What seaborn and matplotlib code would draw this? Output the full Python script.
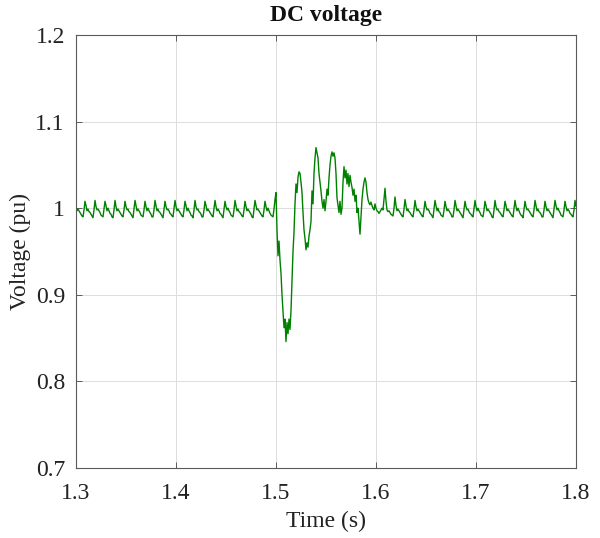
import numpy as np
import pandas as pd
import matplotlib
matplotlib.use("Agg")
import matplotlib.pyplot as plt
import seaborn as sns

# DC-link voltage (pu), sampled every 1 ms from 1.300 s to 1.800 s
t_start = 1.300
dt = 0.001

# steady ripple before the disturbance: 1.300 .. 1.499 s
v_pre = [
    1.002, 0.997, 0.999, 0.997, 0.995, 0.993, 0.991, 0.990, 0.998, 1.008,
    1.003, 0.997, 0.999, 0.996, 0.995, 0.993, 0.991, 0.989, 0.998, 1.009,
    1.002, 0.998, 0.999, 0.997, 0.995, 0.992, 0.991, 0.990, 0.999, 1.008,
    1.003, 0.997, 1.000, 0.997, 0.994, 0.993, 0.990, 0.989, 0.998, 1.009,
    1.002, 0.997, 0.999, 0.997, 0.995, 0.993, 0.991, 0.990, 0.998, 1.008,
    1.002, 0.998, 0.999, 0.996, 0.995, 0.993, 0.991, 0.989, 0.999, 1.009,
    1.003, 0.997, 0.999, 0.997, 0.995, 0.992, 0.991, 0.990, 0.998, 1.008,
    1.002, 0.997, 1.000, 0.997, 0.995, 0.993, 0.990, 0.990, 0.998, 1.009,
    1.003, 0.997, 0.999, 0.996, 0.995, 0.993, 0.991, 0.989, 0.998, 1.008,
    1.002, 0.998, 0.999, 0.997, 0.994, 0.993, 0.991, 0.990, 0.999, 1.009,
    1.002, 0.997, 0.999, 0.997, 0.995, 0.993, 0.991, 0.990, 0.998, 1.008,
    1.003, 0.997, 1.000, 0.997, 0.995, 0.992, 0.991, 0.989, 0.998, 1.009,
    1.002, 0.998, 0.999, 0.996, 0.995, 0.993, 0.990, 0.990, 0.998, 1.008,
    1.003, 0.997, 0.999, 0.997, 0.995, 0.993, 0.991, 0.990, 0.999, 1.009,
    1.002, 0.997, 0.999, 0.997, 0.994, 0.993, 0.991, 0.989, 0.998, 1.008,
    1.002, 0.998, 1.000, 0.997, 0.995, 0.992, 0.991, 0.990, 0.998, 1.009,
    1.003, 0.997, 0.999, 0.996, 0.995, 0.993, 0.991, 0.990, 0.998, 1.008,
    1.002, 0.997, 0.999, 0.997, 0.995, 0.993, 0.990, 0.989, 0.999, 1.009,
    1.003, 0.998, 0.999, 0.997, 0.995, 0.993, 0.991, 0.990, 0.998, 1.008,
    1.002, 0.997, 1.000, 0.997, 0.994, 0.992, 0.991, 0.990, 0.999, 1.010,
]

# disturbance and recovery: 1.500 .. 1.600 s
v_fault = [
    1.018, 0.975, 0.945, 0.962, 0.940, 0.925, 0.900, 0.882, 0.862, 0.872,
    0.846, 0.868, 0.855, 0.872, 0.860, 0.882, 0.915, 0.950, 0.972, 1.005,
    1.028, 1.018, 1.036, 1.042, 1.040, 1.030, 1.018, 0.995, 0.975, 0.965,
    0.952, 0.960, 0.955, 0.968, 0.975, 0.985, 1.020, 1.005, 1.040, 1.058,
    1.070, 1.064, 1.058, 1.040, 1.030, 1.020, 1.008, 1.000, 1.010, 0.997,
    1.008, 1.022, 1.015, 1.035, 1.050, 1.060, 1.065, 1.060, 1.064, 1.058,
    1.040, 1.012, 1.003, 0.995, 1.008, 0.993, 1.000, 1.030, 1.048, 1.035,
    1.044, 1.028, 1.040, 1.025, 1.038, 1.030, 1.024, 1.015, 1.022, 1.008,
    1.015, 0.995, 1.000, 0.985, 0.970, 0.990, 1.010, 1.022, 1.030, 1.035,
    1.030, 1.018, 1.010, 1.006, 1.004, 1.007, 1.003, 1.000, 0.998, 1.005,
    1.000,
]

# ripple after recovery: 1.601 .. 1.800 s
v_post = [
           0.997, 0.996, 0.994, 0.996, 0.998, 1.000, 0.998, 1.010, 1.023,
    1.008, 0.998, 0.996, 0.997, 0.995, 0.993, 0.992, 0.991, 1.000, 1.013,
    1.003, 0.997, 0.999, 0.997, 0.995, 0.993, 0.991, 0.990, 0.999, 1.010,
    1.003, 0.997, 0.999, 0.996, 0.995, 0.993, 0.991, 0.990, 0.998, 1.009,
    1.002, 0.997, 0.999, 0.997, 0.995, 0.993, 0.991, 0.990, 0.998, 1.008,
    1.002, 0.998, 0.999, 0.997, 0.994, 0.993, 0.991, 0.989, 0.999, 1.009,
    1.003, 0.997, 1.000, 0.996, 0.995, 0.992, 0.991, 0.990, 0.998, 1.008,
    1.002, 0.997, 0.999, 0.997, 0.995, 0.993, 0.990, 0.990, 0.998, 1.009,
    1.003, 0.997, 0.999, 0.997, 0.995, 0.993, 0.991, 0.989, 0.998, 1.008,
    1.002, 0.998, 0.999, 0.996, 0.994, 0.993, 0.991, 0.990, 0.999, 1.009,
    1.002, 0.997, 1.000, 0.997, 0.995, 0.992, 0.991, 0.990, 0.998, 1.008,
    1.003, 0.997, 0.999, 0.997, 0.995, 0.993, 0.990, 0.989, 0.998, 1.009,
    1.002, 0.998, 0.999, 0.996, 0.995, 0.993, 0.991, 0.990, 0.998, 1.008,
    1.003, 0.997, 0.999, 0.997, 0.995, 0.993, 0.991, 0.990, 0.999, 1.009,
    1.002, 0.997, 1.000, 0.997, 0.994, 0.992, 0.991, 0.989, 0.998, 1.008,
    1.002, 0.998, 0.999, 0.997, 0.995, 0.993, 0.991, 0.990, 0.998, 1.009,
    1.003, 0.997, 0.999, 0.996, 0.995, 0.993, 0.990, 0.990, 0.998, 1.008,
    1.002, 0.997, 0.999, 0.997, 0.995, 0.993, 0.991, 0.989, 0.999, 1.009,
    1.003, 0.998, 1.000, 0.997, 0.995, 0.992, 0.991, 0.990, 0.998, 1.008,
    1.002, 0.997, 0.999, 0.997, 0.994, 0.993, 0.991, 0.990, 0.998, 1.009,
    1.002,
]

x_ticks = [1.3, 1.4, 1.5, 1.6, 1.7, 1.8]
y_ticks = [0.7, 0.8, 0.9, 1.0, 1.1, 1.2]
x_tick_labels = ["1.3", "1.4", "1.5", "1.6", "1.7", "1.8"]
y_tick_labels = ["0.7", "0.8", "0.9", "1", "1.1", "1.2"]

voltage = np.array(v_pre + v_fault + v_post)
time = np.round(t_start + dt * np.arange(len(voltage)), 4)
df = pd.DataFrame({"Time (s)": time, "Voltage (pu)": voltage})

sns.set_theme(style="whitegrid")
plt.rcParams["font.family"] = ["Liberation Serif", "DejaVu Serif"]

fig = plt.figure(figsize=(6.0, 5.38), dpi=100)
ax = fig.add_axes([76 / 600, 1 - 468 / 538, 500 / 600, 433 / 538])

sns.lineplot(data=df, x="Time (s)", y="Voltage (pu)", ax=ax,
             color="#008000", linewidth=1.0, estimator=None, sort=False)

ax.set_xlim(1.3, 1.8)
ax.set_ylim(0.7, 1.2)
ax.set_xticks(x_ticks)
ax.set_xticklabels(x_tick_labels)
ax.set_yticks(y_ticks)
ax.set_yticklabels(y_tick_labels)

ax.grid(True, color="#dcdcdc", linewidth=0.7)
ax.set_facecolor("white")
for s in ax.spines.values():
    s.set_visible(True)
    s.set_color("#5a5a5a")
    s.set_linewidth(0.8)

ax.tick_params(axis="both", direction="in", length=4, width=0.7, color="#5a5a5a",
               labelsize=17, labelcolor="#222222", top=True, right=True,
               bottom=True, left=True)
ax.tick_params(axis="x", pad=11)
ax.tick_params(axis="y", pad=8)

ax.set_xlabel("Time (s)", fontsize=17, color="#222222", labelpad=5)
ax.set_ylabel("Voltage (pu)", fontsize=17, color="#222222", labelpad=3)
ax.set_title("DC voltage", fontsize=17, fontweight="bold", color="#111111", pad=10)

fig.savefig("out.png", dpi=100, facecolor="white")
